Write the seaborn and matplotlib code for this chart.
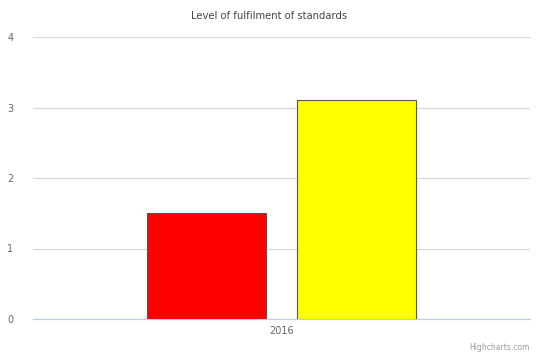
import matplotlib
matplotlib.use("Agg")
import matplotlib.pyplot as plt
import seaborn as sns
import pandas as pd

# Chart data
categories = ["2016"]
series_names = ["Series 1", "Series 2"]
values_series1 = [1.5]
values_series2 = [3.1]
series_colors = ["#FF0000", "#FFFF00"]
y_ticks = [0, 1, 2, 3, 4]

df = pd.DataFrame({
    "year": categories * 2,
    "series": [series_names[0]] * len(categories) + [series_names[1]] * len(categories),
    "value": values_series1 + values_series2,
})

sns.set_theme(style="white")
plt.rcParams["font.family"] = ["DejaVu Sans"]

fig = plt.figure(figsize=(5.39, 3.52), dpi=100)
ax = fig.add_axes([33 / 539, 1 - 319 / 352, (530 - 33) / 539, (319 - 37) / 352])

sns.barplot(
    data=df, x="year", y="value", hue="series",
    hue_order=series_names, palette=series_colors, saturation=1,
    width=0.604, gap=0.205, edgecolor="#555555", linewidth=0.8,
    legend=False, ax=ax, zorder=3,
)

ax.set_xlim(-0.5, 0.5)
ax.set_ylim(0, 4)
ax.set_yticks(y_ticks)
ax.set_yticklabels([str(t) for t in y_ticks])
ax.yaxis.grid(True, color="#D8D8D8", linewidth=0.9, zorder=0)
ax.set_axisbelow(True)
for side in ["top", "right", "left"]:
    ax.spines[side].set_visible(False)
ax.spines["bottom"].set_color("#C0D0E0")
ax.spines["bottom"].set_linewidth(0.9)
ax.tick_params(axis="y", length=0, pad=14, labelsize=7, labelcolor="#666666")
ax.tick_params(axis="x", length=0, pad=5, labelsize=7, labelcolor="#666666")
ax.set_xlabel("")
ax.set_ylabel("")

fig.text(0.5, 1 - 16 / 352, "Level of fulfilment of standards",
         ha="center", va="center", fontsize=7.2, color="#444444")
fig.text(530 / 539, 1 - 347 / 352, "Highcharts.com",
         ha="right", va="center", fontsize=5.5, color="#999999")

fig.savefig("out.png", dpi=100)
